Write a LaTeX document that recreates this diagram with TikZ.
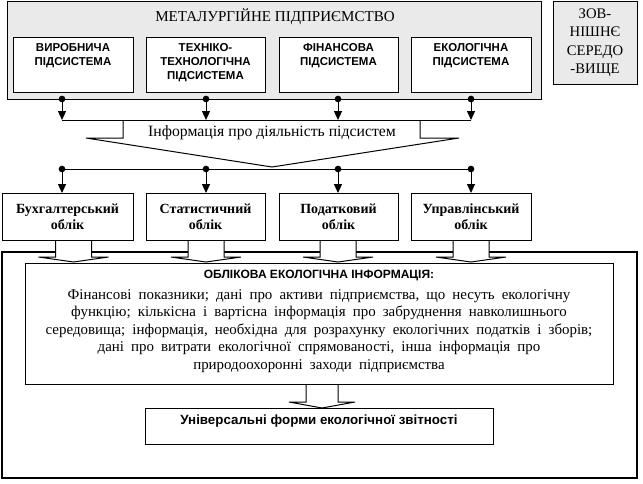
\documentclass[tikz,border=0pt]{standalone}
\usepackage{fontspec}
\setmainfont{Liberation Serif}
\newfontfamily\sansf{Liberation Sans}
\newfontfamily\bodyf[WordSpace=1.9]{Liberation Serif}
\usetikzlibrary{arrows.meta}
\definecolor{lightgr}{RGB}{234,234,234}
\begin{document}
\begin{tikzpicture}[x=0.75pt,y=-0.75pt,
  ln/.style={line width=0.75pt},
  boxw/.style={draw, ln, fill=white, inner sep=0pt},
  grbox/.style={draw, ln, fill=lightgr, inner sep=0pt},
  subtxt/.style={font=\sansf\bfseries\fontsize{8.6}{10.6}\selectfont, align=center, anchor=north, inner sep=0pt},
  acctxt/.style={font=\bfseries\fontsize{10.5}{12}\selectfont, align=center},
  arr/.style={ln, -{Triangle[length=6.75pt,width=6pt]}},
  dotn/.style={circle, fill, inner sep=0pt, minimum size=5pt},
  hollow/.style={ln, fill=white},
]
\useasboundingbox (0,0) rectangle (643,483);

% enterprise
\node[grbox, minimum width={534*0.75pt}, minimum height={98*0.75pt}] (ent) at (274,50) {};
\node[font=\fontsize{11.3}{13}\selectfont, inner sep=0pt] (entt) at (275,17) {МЕТАЛУРГІЙНЕ ПІДПРИЄМСТВО};
\node[grbox, minimum width={84*0.75pt}, minimum height={83*0.75pt}, align=center,
      font=\fontsize{11}{13.9}\selectfont] (ext) at (595,42.5) {ЗОВ-\\НІШНЄ\\СЕРЕДО\\-ВИЩЕ};

% subsystems
\node[boxw, minimum width={120*0.75pt}, minimum height={55*0.75pt}] (s1) at (73,64.5) {};
\node[boxw, minimum width={119*0.75pt}, minimum height={55*0.75pt}] (s2) at (205.5,64.5) {};
\node[boxw, minimum width={119*0.75pt}, minimum height={55*0.75pt}] (s3) at (338.5,64.5) {};
\node[boxw, minimum width={120*0.75pt}, minimum height={55*0.75pt}] (s4) at (471,64.5) {};
\node[subtxt] (s1t) at (73,43) {ВИРОБНИЧА\\ПІДСИСТЕМА};
\node[subtxt] (s2t) at (205.5,43) {ТЕХНІКО-\\ТЕХНОЛОГІЧНА\\ПІДСИСТЕМА};
\node[subtxt] (s3t) at (338.5,43) {ФІНАНСОВА\\ПІДСИСТЕМА};
\node[subtxt] (s4t) at (471,43) {ЕКОЛОГІЧНА\\ПІДСИСТЕМА};

% coordinates
\foreach \x [count=\i] in {62,206,338,471} {
  \coordinate (u\i) at (\x,99);
  \coordinate (v\i) at (\x,120);
  \coordinate (w\i) at (\x,169);
  \coordinate (z\i) at (\x,193);
}

% pointer shape
\draw[ln, fill=white] (123,120) -- (123,138) -- (86,138) -- (272,167) -- (459,138) -- (420,138) -- (420,120);
\draw[ln] (v1) -- (v4);
\draw[ln] (w1) -- (w4);
\node[font=\fontsize{11.8}{13}\selectfont, inner sep=0pt] (midt) at (272,133) {Інформація про діяльність підсистем};

\foreach \i in {1,2,3,4} {
  \draw[arr] (u\i) -- (v\i);
  \node[dotn] (du\i) at (u\i) {};
  \draw[arr] (w\i) -- (z\i);
  \node[dotn] (dw\i) at (w\i) {};
}

% frame
\draw[line width=1.5pt] (2,252) rectangle (637,478);

% hollow arrows
\foreach \c in {73.5,206,338,471} {
  \draw[hollow] ({\c-18},240) -- ({\c-18},257) -- ({\c-35},257) -- (\c,262) -- ({\c+35},257) -- ({\c+18},257) -- ({\c+18},240);
}
\draw[hollow] (306,384) -- (306,402) -- (289,402) -- (322,408) -- (355,402) -- (338,402) -- (338,384);

% accounting boxes
\node[boxw, minimum width={131*0.75pt}, minimum height={47*0.75pt}, acctxt] (a1) at (67.5,216.5) {Бухгалтерський\\облік};
\node[boxw, minimum width={119*0.75pt}, minimum height={47*0.75pt}, acctxt] (a2) at (205.5,216.5) {Статистичний\\облік};
\node[boxw, minimum width={119*0.75pt}, minimum height={47*0.75pt}, acctxt] (a3) at (338.5,216.5) {Податковий\\облік};
\node[boxw, minimum width={120*0.75pt}, minimum height={47*0.75pt}, acctxt] (a4) at (471,216.5) {Управлінський\\облік};

% info box
\node[boxw, minimum width={588*0.75pt}, minimum height={121*0.75pt}] (info) at (319,323.5) {};
\node[font=\sansf\bfseries\fontsize{9}{10}\selectfont, inner sep=0pt] (infoh) at (319,275.5) {ОБЛІКОВА ЕКОЛОГІЧНА ІНФОРМАЦІЯ:};
\node[font=\bodyf\fontsize{11.2}{13.1}\selectfont, align=center, anchor=north, inner sep=0pt] (infob) at (319,289)
 {Фінансові показники; дані про активи підприємства, що несуть екологічну\\
  функцію; кількісна і вартісна інформація про забруднення навколишнього\\
  середовища; інформація, необхідна для розрахунку екологічних податків і зборів;\\
  дані про витрати екологічної спрямованості, інша інформація про\\
  природоохоронні заходи підприємства};

% universal
\node[boxw, minimum width={348*0.75pt}, minimum height={36*0.75pt}] (univ) at (319,426) {};
\node[font=\sansf\bfseries\fontsize{10}{11}\selectfont, inner sep=0pt] (univt) at (319,421.5) {Універсальні форми екологічної звітності};
\end{tikzpicture}
\end{document}
